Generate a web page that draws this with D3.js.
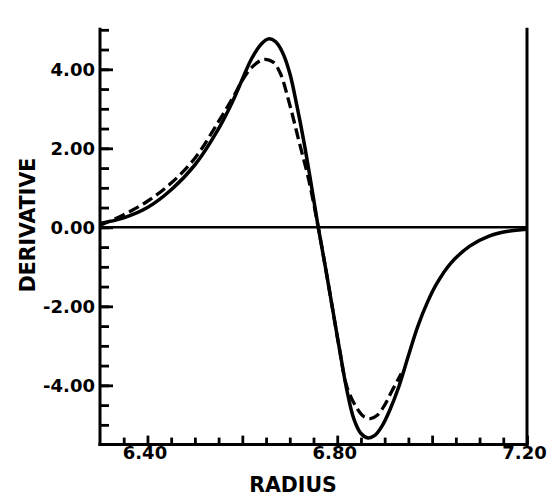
<!DOCTYPE html>
<html>
<head>
<meta charset="utf-8">
<script src="https://cdn.jsdelivr.net/npm/d3@7"></script>
<style>
  html, body { margin: 0; padding: 0; background: #fff; }
  svg { display: block; }
  text { font-family: "DejaVu Sans", sans-serif; font-weight: bold; fill: #000; }
</style>
</head>
<body>
<svg id="chart" width="552" height="496"></svg>
<script>
// ---- data ----
const solidRadius = [6.30, 6.35, 6.40, 6.45, 6.50, 6.55, 6.58, 6.60, 6.62, 6.64, 6.655, 6.67, 6.685, 6.70, 6.715, 6.73, 6.745, 6.76, 6.775, 6.79, 6.805, 6.82, 6.835, 6.85, 6.865, 6.88, 6.895, 6.91, 6.93, 6.95, 6.97, 6.99, 7.01, 7.04, 7.08, 7.12, 7.16, 7.20];
const solidDeriv  = [0.10, 0.24, 0.50, 0.95, 1.58, 2.50, 3.20, 3.75, 4.28, 4.64, 4.77, 4.70, 4.42, 3.90, 3.08, 2.15, 1.10, 0.00, -1.00, -2.05, -3.10, -4.10, -4.85, -5.22, -5.33, -5.26, -5.02, -4.65, -4.03, -3.25, -2.50, -1.90, -1.42, -0.90, -0.47, -0.22, -0.10, -0.05];

const dashedRadius = [6.30, 6.35, 6.40, 6.45, 6.50, 6.55, 6.58, 6.60, 6.62, 6.645, 6.665, 6.68, 6.70, 6.72, 6.74, 6.76, 6.775, 6.79, 6.805, 6.82, 6.84, 6.855, 6.87, 6.885, 6.90, 6.915, 6.935];
const dashedDeriv  = [0.05, 0.32, 0.66, 1.12, 1.75, 2.68, 3.28, 3.72, 4.05, 4.25, 4.18, 3.90, 3.10, 2.15, 1.20, 0.00, -1.00, -2.05, -3.10, -4.02, -4.55, -4.78, -4.84, -4.75, -4.50, -4.15, -3.70];

const yTickValues = [-4, -2, 0, 2, 4];
const yTickLabels = ["-4.00", "-2.00", "0.00", "2.00", "4.00"];
const xTickValues = [6.40, 6.80, 7.20];
const xTickLabels = ["6.40", "6.80", "7.20"];
const yMinorTicks = d3.range(-5.0, 5.01, 0.5);
const xMinorTicks = d3.range(6.35, 7.201, 0.05);
const xMajorTicks = [6.40, 6.60, 6.80, 7.00, 7.20];

const xTitle = "RADIUS";
const yTitle = "DERIVATIVE";

// ---- layout ----
const svg = d3.select("#chart");
const pLeft = 100, pRight = 527, pTop = 29.8, pBottom = 444.6;

const x = d3.scaleLinear().domain([6.30, 7.20]).range([pLeft, pRight]);
const y = d3.scaleLinear().domain([-5.5, 5.0]).range([pBottom, pTop]);

const axisStroke = 3;

// minor y ticks
const yMinorAxis = d3.axisLeft(y).tickValues(yMinorTicks).tickSizeInner(-9).tickSizeOuter(0).tickFormat("");
svg.append("g").attr("transform", `translate(${pLeft},0)`).call(yMinorAxis)
  .call(g => g.select(".domain").remove())
  .call(g => g.selectAll("line").attr("stroke", "#000").attr("stroke-width", 2.8));

// major y ticks with labels
const yMajorAxis = d3.axisLeft(y).tickValues(yTickValues).tickSizeInner(-13).tickSizeOuter(0).tickPadding(5)
  .tickFormat((d, i) => yTickLabels[i]);
svg.append("g").attr("transform", `translate(${pLeft},0)`).call(yMajorAxis)
  .call(g => g.select(".domain").remove())
  .call(g => g.selectAll("line").attr("stroke", "#000").attr("stroke-width", 2.8))
  .call(g => g.selectAll("text").attr("font-size", 18).attr("font-family", "DejaVu Sans").attr("font-weight", "bold").attr("fill", "#000").attr("dy", "0.36em"));

// minor x ticks
const xMinorAxis = d3.axisBottom(x).tickValues(xMinorTicks.filter(v => !xMajorTicks.some(m => Math.abs(m - v) < 1e-6))).tickSizeInner(-7).tickSizeOuter(0).tickFormat("");
svg.append("g").attr("transform", `translate(0,${pBottom})`).call(xMinorAxis)
  .call(g => g.select(".domain").remove())
  .call(g => g.selectAll("line").attr("stroke", "#000").attr("stroke-width", 2.8));

const xMajorTickAxis = d3.axisBottom(x).tickValues(xMajorTicks).tickSizeInner(-9).tickSizeOuter(0).tickFormat("");
svg.append("g").attr("transform", `translate(0,${pBottom})`).call(xMajorTickAxis)
  .call(g => g.select(".domain").remove())
  .call(g => g.selectAll("line").attr("stroke", "#000").attr("stroke-width", 2.8));

// x labels
const xLabelAxis = d3.axisBottom(x).tickValues(xTickValues).tickSize(0).tickPadding(1.5)
  .tickFormat((d, i) => xTickLabels[i]);
svg.append("g").attr("transform", `translate(0,${pBottom})`).call(xLabelAxis)
  .call(g => g.select(".domain").remove())
  .call(g => g.selectAll("text").attr("font-size", 18).attr("font-family", "DejaVu Sans").attr("font-weight", "bold").attr("fill", "#000").attr("dx", -3));

// frame lines: left, bottom, right
svg.append("line").attr("x1", pLeft).attr("x2", pLeft).attr("y1", pTop - 2).attr("y2", pBottom + 1.5)
  .attr("stroke", "#000").attr("stroke-width", axisStroke);
svg.append("line").attr("x1", pLeft - 1.5).attr("x2", pRight + 1.5).attr("y1", pBottom).attr("y2", pBottom)
  .attr("stroke", "#000").attr("stroke-width", axisStroke);
svg.append("line").attr("x1", pRight).attr("x2", pRight).attr("y1", pTop - 2).attr("y2", pBottom + 1.5)
  .attr("stroke", "#000").attr("stroke-width", axisStroke);

// zero line
svg.append("line").attr("x1", x(6.30)).attr("x2", x(7.20)).attr("y1", y(0)).attr("y2", y(0))
  .attr("stroke", "#000").attr("stroke-width", 2.6);

// curves
const line = d3.line().x(d => x(d[0])).y(d => y(d[1])).curve(d3.curveCatmullRom.alpha(0.5));

svg.append("path")
  .datum(dashedRadius.map((r, i) => [r, dashedDeriv[i]]))
  .attr("d", line)
  .attr("fill", "none").attr("stroke", "#000").attr("stroke-width", 3.3)
  .attr("stroke-dasharray", "11,5");

svg.append("path")
  .datum(solidRadius.map((r, i) => [r, solidDeriv[i]]))
  .attr("d", line)
  .attr("fill", "none").attr("stroke", "#000").attr("stroke-width", 3.5);

// titles
svg.append("text").attr("x", 293).attr("y", 492).attr("text-anchor", "middle")
  .attr("font-size", 20.5).text(xTitle);
svg.append("text").attr("transform", "translate(35,225) rotate(-90)").attr("text-anchor", "middle")
  .attr("font-size", 20.5).text(yTitle);
</script>
</body>
</html>
